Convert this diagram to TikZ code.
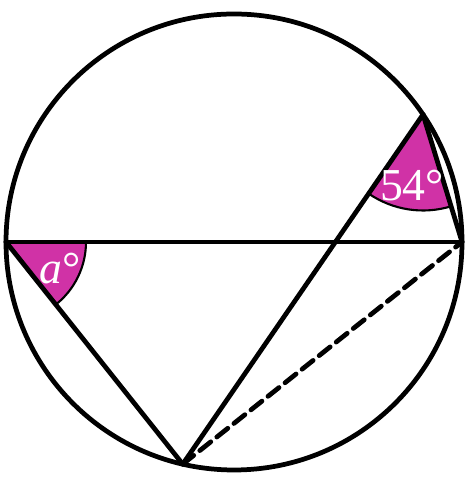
\documentclass[tikz,border=0pt]{standalone}
\usepackage{tkz-euclide}
\usepackage{fontspec}
\setmainfont{Liberation Serif}
\definecolor{anglepink}{RGB}{208,50,166}
\tikzset{angle label/.style={text=white, font=\fontsize{13}{15}\selectfont},
    thick line/.style={draw=black, line width=1.35pt}
}

\begin{document}
\begin{tikzpicture}
        \useasboundingbox (0,0) rectangle (4.68,4.80);
        \tkzDefPoint(2.34,2.38){O}
        \tkzDefShiftPoint[O](180:2.28){A}
        \tkzDefShiftPoint[O](0:2.28){B}
        \tkzDefShiftPoint[O](-103:2.28){C}
        \tkzDefShiftPoint[O](34:2.28){D}
        % shaded angles
        \tkzFillAngle[fill=anglepink, draw=black, line width=0.6pt, size=0.8](C,A,B)
        \tkzFillAngle[fill=anglepink, draw=black, line width=0.6pt, size=0.96](C,D,B)
        % circle and chords
        \tkzDrawCircle[thick line](O,A)
        \tkzDrawSegment[thick line](A,B)
        \tkzDrawSegment[thick line](A,C)
        \tkzDrawSegment[thick line](C,D)
        \tkzDrawSegment[thick line](D,B)
        \tkzDrawSegment[thick line, dash pattern=on 4pt off 2.2pt](C,B)
        % angle labels
        \tkzLabelAngle[pos=0.6, angle label](C,A,B){\textit{a}°}
        \tkzLabelAngle[pos=0.72, angle label](C,D,B){54°}
    \end{tikzpicture}
\end{document}
